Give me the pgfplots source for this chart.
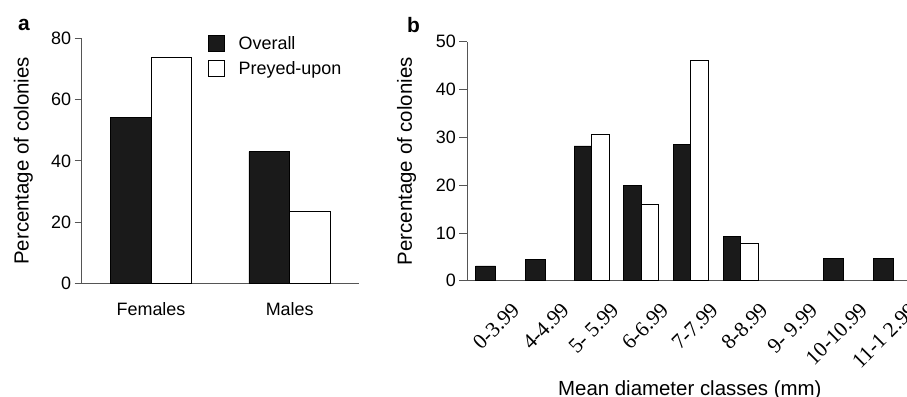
\documentclass[border=0pt]{standalone}
\usepackage{pgfplots}
\pgfplotsset{compat=1.18}
\usepackage{fontspec}
\setmainfont{Liberation Sans}
\newfontfamily\serifb{Liberation Serif}
\definecolor{barblack}{HTML}{1A1A1A}
\definecolor{axgray}{HTML}{555555}
\newcommand{\rl}[1]{\hbox{\fontsize{21.5}{24}\selectfont\serifb #1}}
\begin{document}
\begin{tikzpicture}
\useasboundingbox (0bp,0bp) rectangle (907bp,397bp);
\pgfplotsset{
  mystyle/.style={
    scale only axis,
    anchor=south west,
    axis x line*=bottom,
    axis y line*=left,
    axis line style={-,axgray,line width=0.8bp},
    every tick/.style={axgray,line width=0.8bp},
    tick align=outside,
    ybar,
    /pgf/number format/assume math mode=true,
    yticklabel style={font=\fontsize{18}{21}\selectfont},
    label style={font=\fontsize{20.5}{24}\selectfont},
    minor tick length=6bp,
    clip=false,
  },
  blackbar/.style={fill=barblack,draw=black,line width=0.6bp},
  whitebar/.style={fill=white,draw=black,line width=0.8bp},
}
% Panel a
\begin{axis}[mystyle,
  at={(81.7bp,113.3bp)},
  width=277.3bp, height=245.7bp,
  xmin=-0.5, xmax=1.5, ymin=0, ymax=80,
  ytick={0,20,40,60,80},
  major tick length=7bp,
  xtick={0,1}, xticklabels={Females,Males},
  x tick style={draw=none},
  minor xtick={-0.5,0.5,1.5},
  minor x tick style={axgray,line width=0.8bp},
  xticklabel style={yshift=-8bp,font=\fontsize{18}{21}\selectfont},
  ylabel={Percentage of colonies},
  ylabel style={at={(axis description cs:-0.21,0.5)},anchor=center},
  legend image code/.code={\draw[#1] (0bp,-8bp) rectangle (16bp,8bp);\path[draw=none,fill=none] (16bp,0bp) -- (28bp,0bp);},
  legend style={at={(0.445,1.025)},anchor=north west,draw=none,fill=none,
    font=\fontsize{18}{21}\selectfont,row sep=7bp},
  legend cell align=left,
]
\addplot[blackbar,bar width=40.8bp,bar shift=-20.4bp]
  coordinates {(0,54.2) (1,43.0)};
\addlegendentry{Overall}
\addplot[whitebar,bar width=40.8bp,bar shift=20.4bp]
  coordinates {(0,73.7) (1,23.4)};
\addlegendentry{Preyed-upon}
\end{axis}
% Panel b
\begin{axis}[mystyle,
  at={(467.3bp,116.3bp)},
  width=439.7bp, height=239bp,
  xmin=-0.5, xmax=8.35, ymin=0, ymax=50,
  ytick={0,10,20,30,40,50},
  major tick length=8bp,
  minor tick length=9bp,
  xtick={0,1,2,3,4,5,6,7,8},
  xticklabels={\rl{0-3.99},\rl{4-4.99},\rl{5- 5.99},\rl{6-6.99},\rl{7-7.99},\rl{8-8.99},\rl{9- 9.99},\rl{10-10.99},\rl{11-1 2.99}},
  x tick style={draw=none},
  minor xtick={-0.5,0.5,1.5,2.5,3.5,4.5,5.5,6.5,7.5},
  minor x tick style={axgray,line width=0.8bp},
  xticklabel style={rotate=45,anchor=north east,inner sep=1bp,xshift=5bp,yshift=-21bp},
  ylabel={Percentage of colonies},
  ylabel style={at={(axis description cs:-0.138,0.5)},anchor=center},
  xlabel={Mean diameter classes (mm)},
  xlabel style={at={(axis description cs:0.506,-0.46)},anchor=center},
]
\addplot[blackbar,bar width=17.5bp,bar shift=-8.75bp]
  coordinates {(2,28.2) (3,20.0) (4,28.5) (5,9.2)};
\addplot[whitebar,bar width=17.5bp,bar shift=8.75bp]
  coordinates {(2,30.7) (3,15.9) (4,46.1) (5,7.7)};
\addplot[blackbar,bar width=20bp,bar shift=-6.5bp]
  coordinates {(0,3.1) (1,4.5) (7,4.7) (8,4.7)};
\end{axis}
\node[font=\bfseries\fontsize{21}{24}\selectfont] at (24bp,372bp) {a};
\node[font=\bfseries\fontsize{21}{24}\selectfont] at (413.5bp,372bp) {b};
\end{tikzpicture}
\end{document}
